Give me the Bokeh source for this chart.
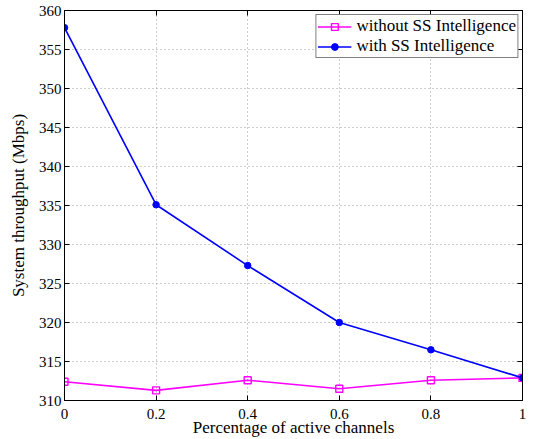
from bokeh.plotting import figure
from bokeh.models import LinearAxis, FixedTicker, Legend, LegendItem, Range1d
from bokeh.embed import file_html
from bokeh.resources import INLINE

x_vals = [0.0, 0.2, 0.4, 0.6, 0.8, 1.0]
without_ss = [312.4, 311.3, 312.6, 311.5, 312.6, 312.9]
with_ss = [357.8, 335.1, 327.3, 320.0, 316.5, 312.9]
x_ticks = [0.0, 0.2, 0.4, 0.6, 0.8, 1.0]
x_tick_labels = ["0", "0.2", "0.4", "0.6", "0.8", "1"]
y_ticks = [310, 315, 320, 325, 330, 335, 340, 345, 350, 355, 360]
series_names = ["without SS Intelligence", "with SS Intelligence"]

FONT = "Liberation Serif"

p = figure(width=539, height=439, output_backend="svg", toolbar_location=None,
           x_range=Range1d(0, 1), y_range=Range1d(310, 360),
           min_border_left=64, min_border_right=17, min_border_top=10, min_border_bottom=37)
p.background_fill_color = "white"
p.border_fill_color = "white"
p.outline_line_color = "black"
p.outline_line_width = 1

for ax in [p.xaxis[0], p.yaxis[0]]:
    ax.major_tick_in = 5
    ax.major_tick_out = 0
    ax.minor_tick_line_color = None
    ax.axis_line_color = "black"
    ax.major_label_text_font = FONT
    ax.major_label_text_font_size = "15px"
    ax.major_label_text_color = "black"
    ax.axis_label_text_font = FONT
    ax.axis_label_text_font_size = "17px"
    ax.axis_label_text_font_style = "normal"
    ax.axis_label_text_color = "black"

p.xaxis[0].ticker = FixedTicker(ticks=x_ticks)
p.xaxis[0].major_label_overrides = {t: l for t, l in zip(x_ticks, x_tick_labels)}
p.xaxis[0].major_label_standoff = 8
p.xaxis[0].major_label_text_line_height = 1.0
p.xaxis[0].axis_label = "Percentage of active channels"
p.xaxis[0].axis_label_standoff = -4
p.xaxis[0].axis_label_text_line_height = 1.0
p.yaxis[0].ticker = FixedTicker(ticks=y_ticks)
p.yaxis[0].major_label_standoff = 3
p.yaxis[0].axis_label = "System throughput (Mbps)"
p.yaxis[0].axis_label_standoff = 8

for loc, ticks in [("right", y_ticks), ("above", x_ticks)]:
    ax = LinearAxis(ticker=FixedTicker(ticks=ticks))
    ax.major_tick_in = 5
    ax.major_tick_out = 0
    ax.minor_tick_line_color = None
    ax.major_label_text_color = None
    ax.major_label_text_font_size = "1px"
    ax.major_label_standoff = 0
    ax.axis_line_color = "black"
    p.add_layout(ax, loc)

p.xgrid.ticker = FixedTicker(ticks=x_ticks[1:-1])
p.ygrid.ticker = FixedTicker(ticks=y_ticks[1:-1])
for g in [p.xgrid[0], p.ygrid[0]]:
    g.grid_line_color = "#9a9a9a"
    g.grid_line_dash = "1 3"
    g.grid_line_width = 1

l1 = p.line(x_vals, without_ss, line_color="#ff00ff", line_width=1.6)
m1 = p.scatter(x_vals, without_ss, marker="square", size=7, line_color="#ff00ff",
               fill_alpha=0, line_width=1.4)
l2 = p.line(x_vals, with_ss, line_color="#0000ff", line_width=1.6)
m2 = p.scatter(x_vals, with_ss, marker="circle", size=6.5, line_color="#0000ff",
               fill_color="#0000ff")

legend = Legend(items=[LegendItem(label=series_names[0], renderers=[l1, m1]),
                       LegendItem(label=series_names[1], renderers=[l2, m2])],
                location="top_right")
legend.margin = 4
legend.padding = 1
legend.spacing = 0
legend.glyph_width = 34
legend.glyph_height = 17
legend.label_height = 17
legend.label_standoff = 5
legend.label_text_font = FONT
legend.label_text_font_size = "17px"
legend.label_text_line_height = 1.0
legend.label_text_color = "black"
legend.border_line_color = "black"
legend.border_line_width = 1
legend.background_fill_color = "white"
legend.background_fill_alpha = 1
p.add_layout(legend)

open("out.html", "w").write(file_html(p, INLINE))
